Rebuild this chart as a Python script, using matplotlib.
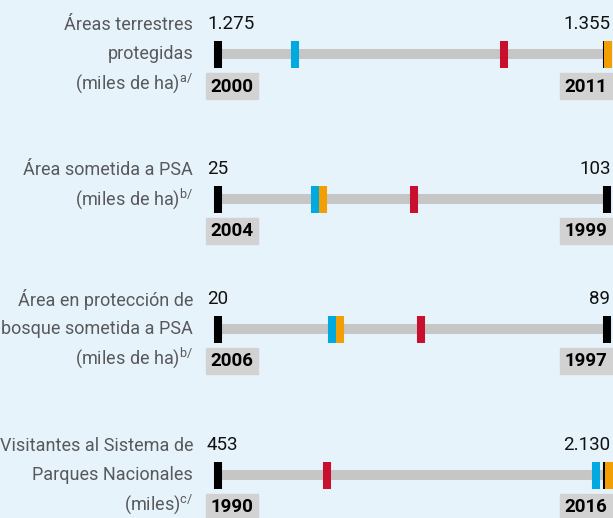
import matplotlib.pyplot as plt
from matplotlib.patches import Rectangle

# indicator labels (one list of lines per row)
labels = [
    ["Áreas terrestres", "protegidas", r"(miles de ha)$^{\mathrm{a/}}$"],
    ["Área sometida a PSA", r"(miles de ha)$^{\mathrm{b/}}$"],
    ["Área en protección de", "bosque sometida a PSA", r"(miles de ha)$^{\mathrm{b/}}$"],
    ["Visitantes al Sistema de", "Parques Nacionales", r"(miles)$^{\mathrm{c/}}$"],
]

# minimum / maximum values and the year each was reached
min_vals = [1275, 25, 20, 453]
max_vals = [1355, 103, 89, 2130]
min_text = ["1.275", "25", "20", "453"]
max_text = ["1.355", "103", "89", "2.130"]
min_years = ["2000", "2004", "2006", "1990"]
max_years = ["2011", "1999", "1997", "2016"]

# coloured markers
cyan_vals = [1291, 44.5, 40.3, 2083]
red_vals = [1334, 64.5, 56.1, 927]
orange_vals = [1355.4, 46.2, 41.8, 2142]

BG = "#E6F3FB"
TRACK = "#C6C6C6"
BOX = "#D2D2D2"
CYAN = "#00A9E0"
RED = "#C8102E"
ORANGE = "#F29F05"
LABEL = "#58595B"

plt.rcParams["font.family"] = ["Roboto", "DejaVu Sans"]
plt.rcParams["mathtext.fontset"] = "custom"
plt.rcParams["mathtext.rm"] = "Roboto"

W, H = 613, 518
track_left, track_px = 217.5, 389
row_centers = [54, 199, 329, 475]  # pixel rows of the tracks (from top)


def draw_row(fig, i):
    vmin, vmax = min_vals[i], max_vals[i]
    yc = row_centers[i]
    ax = fig.add_axes([track_left / W, (H - yc - 50) / H, track_px / W, 100 / H])
    ax.set_xlim(vmin, vmax)
    ax.set_ylim(-50, 50)
    ax.axis("off")
    s = (vmax - vmin) / track_px  # data units per pixel

    ax.plot([vmin, vmax], [0, 0], color=TRACK, lw=7.2, solid_capstyle="butt", zorder=1)

    def mark(v, c, z):
        ax.plot([v, v], [-13.5, 13.5], color=c, lw=5.8, solid_capstyle="butt",
                clip_on=False, zorder=z)

    mark(vmin, "black", 2)
    mark(vmax, "black", 2)
    mark(cyan_vals[i], CYAN, 3)
    mark(red_vals[i], RED, 3)
    mark(orange_vals[i], ORANGE, 4)

    # values above
    ax.text(vmin - 10.5 * s, 30, min_text[i], ha="left", va="center",
            fontsize=13.5, color="#111111")
    ax.text(vmax + 4 * s, 30, max_text[i], ha="right", va="center",
            fontsize=13.5, color="#111111")

    # year boxes below
    for x0, yr in [(vmin - 11.5 * s, min_years[i]), (vmax + 5.3 * s - 52 * s, max_years[i])]:
        ax.add_patch(Rectangle((x0, -45), 52 * s, 26, color=BOX, clip_on=False, zorder=1))
        ax.text(x0 + 26 * s, -32.5, yr, ha="center", va="center", fontsize=13.5,
                fontweight="bold", color="black")

    # indicator label on the left
    for k, line in enumerate(labels[i]):
        ax.text(vmin - 24.5 * s, 29 - 29 * k, line, ha="right", va="center",
                fontsize=13, color=LABEL)


def plot_chart():
    fig = plt.figure(figsize=(W / 100, H / 100), dpi=100)
    fig.patch.set_facecolor(BG)
    for i in range(len(labels)):
        draw_row(fig, i)
    fig.savefig("out.png", dpi=100, facecolor=BG)


if __name__ == "__main__":
    plot_chart()
